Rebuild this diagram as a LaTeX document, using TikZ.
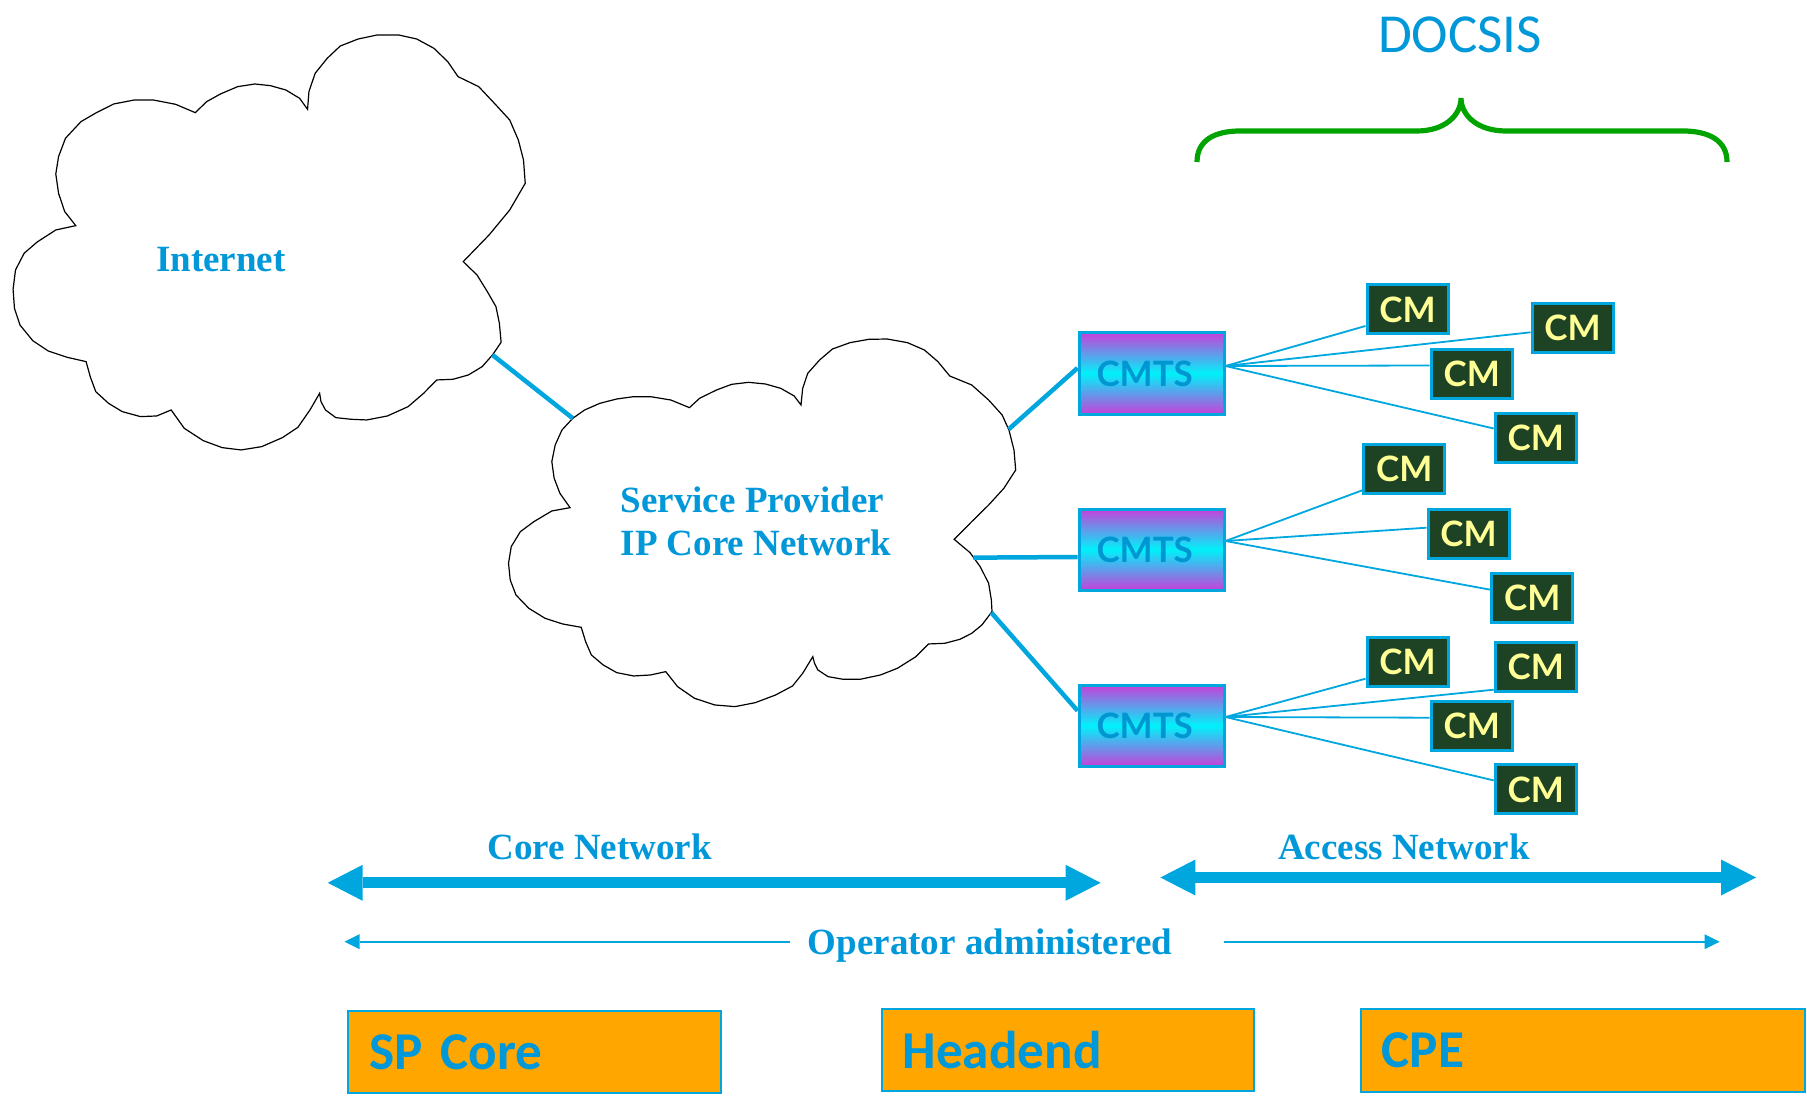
\documentclass[tikz,border=0pt]{standalone}
\usepackage{fontspec}
\setmainfont{Liberation Serif}
\newfontfamily\calib{Carlito}
\newfontfamily\geo{Lato}
\usetikzlibrary{arrows.meta,calc}
\definecolor{txtblue}{RGB}{0,152,216}
\definecolor{lineblue}{RGB}{0,166,222}
\definecolor{boxorange}{RGB}{255,166,0}
\definecolor{bracegreen}{RGB}{0,163,0}
\definecolor{cmgreen}{RGB}{30,66,36}
\definecolor{cmyellow}{RGB}{255,255,150}
\definecolor{cmtsmag}{RGB}{198,64,218}
\definecolor{cmtscyan}{RGB}{0,242,250}
\definecolor{cmtstxt}{RGB}{0,150,210}
\begin{document}
\begin{tikzpicture}[x=0.5pt,y=-0.5pt,
  cloudpath/.style={draw=black, line width=0.6pt, fill=white, line join=miter},
  lbl/.style={text=txtblue, font=\bfseries\fontsize{18.5}{21.65}\selectfont, inner sep=0pt},
  cmtsbox/.style={draw=lineblue, line width=1.5pt, minimum width=72.5pt, minimum height=40.5pt,
    top color=cmtsmag, bottom color=cmtsmag, middle color=cmtscyan, text=cmtstxt,
    font=\geo\bfseries\fontsize{17.5}{20}\selectfont, inner sep=0pt, text width=55pt, align=left},
  cmbox/.style={draw=lineblue, line width=1.5pt, fill=cmgreen, minimum width=40.5pt, minimum height=24.5pt,
    text=cmyellow, font=\geo\bfseries\fontsize{17.5}{20}\selectfont, inner sep=0pt},
  fat/.style={draw=lineblue, line width=2.25pt},
  cmlink/.style={draw=lineblue, line width=0.9pt},
  spanarrow/.style={draw=lineblue, line width=5.5pt,
    {Triangle[length=17.5pt,width=18pt,line width=0pt]}-{Triangle[length=17.5pt,width=18pt,line width=0pt]}},
  admin/.style={draw=lineblue, line width=1pt, -{Triangle[length=7.5pt,width=7.5pt,line width=0pt]}},
  zone/.style={draw=lineblue, line width=1pt, fill=boxorange, text=txtblue,
    font=\calib\bfseries\fontsize{26.6}{30}\selectfont, inner xsep=10.5pt, inner ysep=0pt,
    align=left, minimum height=41.3pt}
]
\useasboundingbox (0,0) rectangle (1807,1096);

% Internet cloud
\begin{scope}[shift={(0,20)}, xscale=0.3444, yscale=0.3333]
\draw[cloudpath] (567,278) -- (600,245) -- (640,222) -- (690,200) -- (740,192) -- (785,197) -- (830,210) -- (870,235) -- (893,268) -- (897,215) -- (915,160) -- (950,115) -- (988,78) -- (1040,57) -- (1095,45) -- (1158,45) -- (1210,57) -- (1260,85) -- (1300,125) -- (1330,170) -- (1390,200) -- (1440,255) -- (1480,300) -- (1505,360) -- (1520,420) -- (1525,490) -- (1480,570) -- (1420,645) -- (1345,725) -- (1385,765) -- (1415,815) -- (1440,860) -- (1450,910) -- (1455,967) -- (1430,1005) -- (1400,1040) -- (1360,1065) -- (1315,1078) -- (1268,1080) -- (1230,1120) -- (1185,1160) -- (1125,1188) -- (1065,1200) -- (1020,1198) -- (975,1193) -- (945,1170) -- (932,1145) -- (928,1120) -- (900,1170) -- (865,1222) -- (820,1253) -- (760,1280) -- (700,1290) -- (645,1283) -- (590,1262) -- (535,1225) -- (497,1170) -- (455,1188) -- (408,1190) -- (355,1175) -- (315,1150) -- (278,1115) -- (262,1070) -- (250,1025) -- (195,1012) -- (140,993) -- (95,962) -- (58,915) -- (42,865) -- (38,808) -- (45,750) -- (70,700) -- (108,666) -- (162,630) -- (220,617) -- (188,575) -- (170,520) -- (162,462) -- (170,410) -- (190,355) -- (235,305) -- (280,278) -- (330,252) -- (390,240) -- (445,240) -- (510,253) -- cycle;
\coordinate (inetA) at (1430,1005);
\end{scope}

% Service provider cloud
\begin{scope}[shift={(495,330)}, xscale=0.3381, yscale=0.3333]
\draw[cloudpath] (230,265) -- (265,240) -- (310,220) -- (360,207) -- (410,200) -- (460,200) -- (520,210) -- (575,233) -- (605,205) -- (655,180) -- (700,163) -- (750,157) -- (800,162) -- (845,175) -- (885,198) -- (905,225) -- (910,175) -- (925,130) -- (960,90) -- (998,57) -- (1050,38) -- (1105,28) -- (1160,27) -- (1220,38) -- (1270,60) -- (1310,95) -- (1345,138) -- (1410,165) -- (1460,210) -- (1500,255) -- (1520,300) -- (1535,360) -- (1540,420) -- (1505,475) -- (1460,525) -- (1410,575) -- (1358,628) -- (1405,668) -- (1435,710) -- (1460,760) -- (1468,810) -- (1470,845) -- (1440,885) -- (1410,910) -- (1375,928) -- (1330,940) -- (1282,942) -- (1245,980) -- (1190,1015) -- (1140,1035) -- (1080,1048) -- (1030,1048) -- (985,1040) -- (955,1020) -- (945,1000) -- (940,980) -- (910,1030) -- (880,1068) -- (830,1095) -- (770,1118) -- (710,1130) -- (650,1125) -- (590,1105) -- (540,1070) -- (505,1025) -- (460,1035) -- (410,1038) -- (360,1028) -- (320,1005) -- (285,975) -- (268,935) -- (255,892) -- (200,882) -- (148,865) -- (100,835) -- (62,795) -- (45,750) -- (40,700) -- (48,650) -- (75,605) -- (115,575) -- (168,543) -- (222,533) -- (192,490) -- (175,445) -- (168,395) -- (178,345) -- (198,300) -- cycle;
\coordinate (spA) at (230,265);
\coordinate (spB) at (1519,298);
\coordinate (spC) at (1415,683);
\coordinate (spD) at (1468,848);
\end{scope}

\node[lbl, anchor=base] (inet) at (221,272) {Internet};
\node[lbl, align=left] (sp) at (756,521) {Service Provider\\IP Core Network};

% CMTS
\node[cmtsbox] (cmts1) at (1151.5,373.5) {CMTS};
\node[cmtsbox] (cmts2) at (1151.5,549.5) {CMTS};
\node[cmtsbox] (cmts3) at (1151.5,725.7) {CMTS};

% CMs
\node[cmbox] (cm1a) at (1407.5,309.5) {CM};
\node[cmbox] (cm1b) at (1572.5,328.3) {CM};
\node[cmbox] (cm1c) at (1471.7,373.5) {CM};
\node[cmbox] (cm1d) at (1535.7,437.5) {CM};
\node[cmbox] (cm2a) at (1404.3,469.3) {CM};
\node[cmbox] (cm2b) at (1468.5,533.7) {CM};
\node[cmbox] (cm2c) at (1532.3,597.7) {CM};
\node[cmbox] (cm3a) at (1407.5,661.7) {CM};
\node[cmbox] (cm3b) at (1535.7,666.7) {CM};
\node[cmbox] (cm3c) at (1471.7,725.7) {CM};
\node[cmbox] (cm3d) at (1535.7,789.4) {CM};

% thick links
\draw[fat] (inetA) -- (spA);
\draw[fat] (spB) -- ($(cmts1.west)+(0,-5.5)$);
\draw[fat] (spC) -- ($(cmts2.west)+(0,7.5)$);
\draw[fat] (spD) -- ($(cmts3.west)+(0,-15)$);

% CM links
\coordinate (o1) at ($(cmts1.east)+(0,-7.5)$);
\coordinate (o2) at ($(cmts2.east)+(0,-8.5)$);
\coordinate (o3) at ($(cmts3.east)+(0,-8.7)$);
\draw[cmlink] (o1) -- ($(cm1a.west)+(0,16.5)$);
\draw[cmlink] (o1) -- ($(cm1b.west)+(0,4)$);
\draw[cmlink] (o1) -- ($(cm1c.west)+(0,-8)$);
\draw[cmlink] (o1) -- ($(cm1d.west)+(0,-9)$);
\draw[cmlink] (o2) -- ($(cm2a.west)+(0,21)$);
\draw[cmlink] (o2) -- ($(cm2b.west)+(0,-6)$);
\draw[cmlink] (o2) -- ($(cm2c.west)+(0,-8)$);
\draw[cmlink] (o3) -- ($(cm3a.west)+(0,17)$);
\draw[cmlink] (o3) -- ($(cm3b.west)+(0,23)$);
\draw[cmlink] (o3) -- ($(cm3c.west)+(0,-8)$);
\draw[cmlink] (o3) -- ($(cm3d.west)+(0,-9)$);

% DOCSIS brace
\node[text=txtblue, font=\calib\fontsize{27.5}{30}\selectfont, anchor=base, inner sep=0pt] (docsis) at (1460,52.7) {DOCSIS};
\draw[draw=bracegreen, line width=2.6pt] (1197,162) .. controls (1197,140) and (1215,131) .. (1240,131) -- (1417,131) .. controls (1445,131) and (1461,115) .. (1461,98) .. controls (1461,115) and (1477,131) .. (1506,131) -- (1683,131) .. controls (1708,131) and (1727,140) .. (1727,162);

% span arrows
\coordinate (coreL) at (327.7,882.8);
\coordinate (coreR) at (1100.6,882.8);
\coordinate (accL) at (1160.4,877.5);
\coordinate (accR) at (1756,877.5);
\draw[spanarrow] (coreL) -- (coreR);
\draw[spanarrow] (accL) -- (accR);
\node[lbl, anchor=base] (corelbl) at (599.6,859.3) {Core Network};
\node[lbl, anchor=base] (acclbl) at (1404,859.3) {Access Network};

\node[lbl, anchor=base] (oplbl) at (990,954) {Operator administered};
\coordinate (opL1) at (790.4,941.7);
\coordinate (opL2) at (344.5,941.7);
\coordinate (opR1) at (1223.7,941.7);
\coordinate (opR2) at (1719.6,941.7);
\draw[admin] (opL1) -- (opL2);
\draw[admin] (opR1) -- (opR2);

% zones
\node[zone, text width=165.2pt] (spcore) at (534.5,1052) {SP Core};
\node[zone, text width=165.1pt] (headend) at (1067.7,1049.9) {Headend};
\node[zone, text width=201.1pt] (cpe) at (1582.9,1050.3) {CPE};
\end{tikzpicture}
\end{document}
